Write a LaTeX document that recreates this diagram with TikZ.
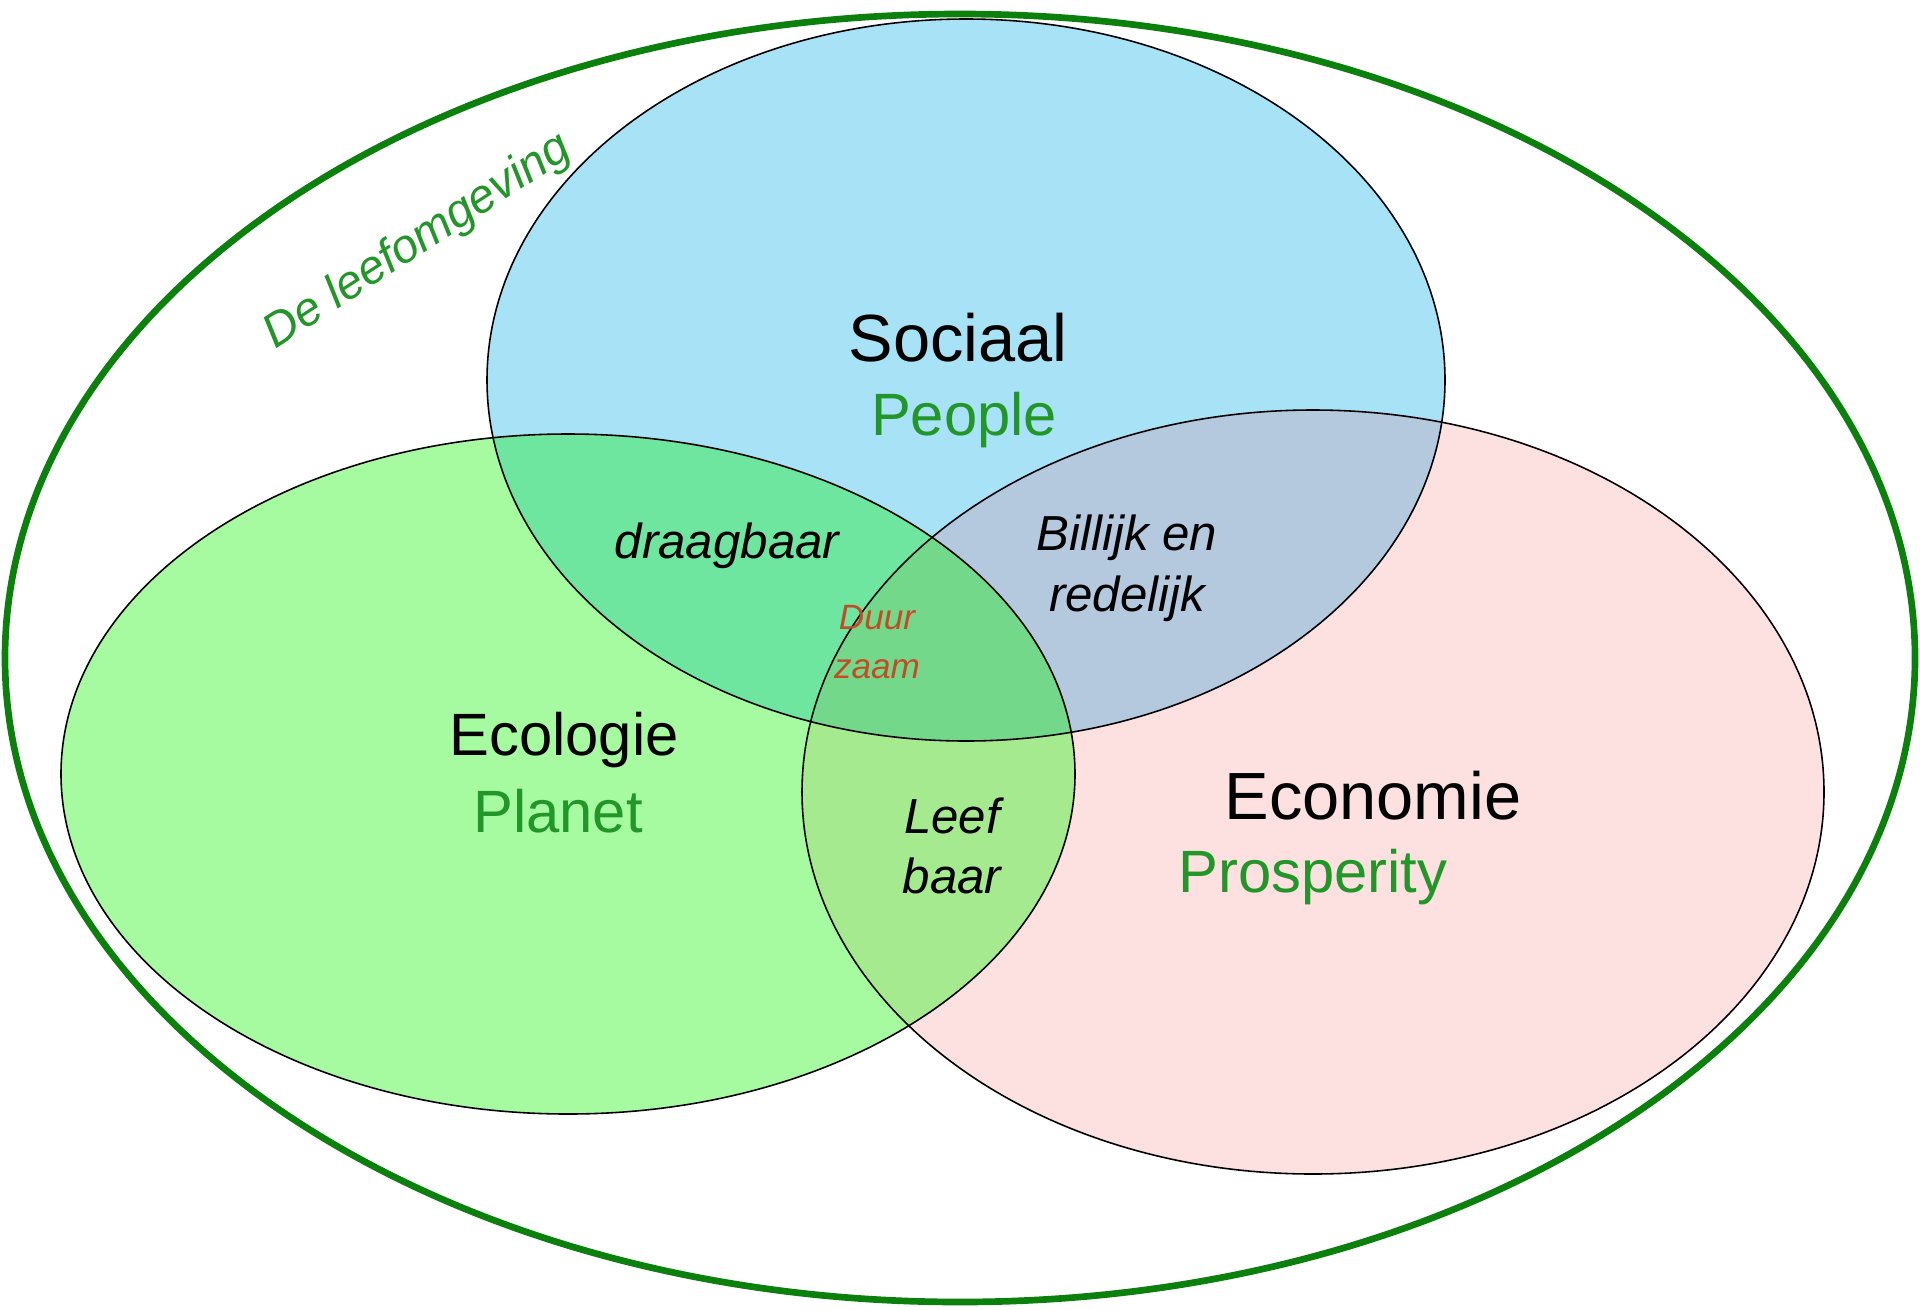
\documentclass[tikz,border=0pt]{standalone}
\usepackage{fontspec}
\setmainfont{Liberation Sans}
\usetikzlibrary{positioning}

\definecolor{socblue}{RGB}{168,226,247}
\definecolor{ecogreen}{RGB}{166,250,160}
\definecolor{econpink}{RGB}{253,224,224}
\definecolor{sgmix}{RGB}{110,230,160}
\definecolor{semix}{RGB}{180,200,222}
\definecolor{egmix}{RGB}{165,234,142}
\definecolor{allmix}{RGB}{115,216,138}
\definecolor{leafgreen}{RGB}{34,150,40}
\definecolor{rimgreen}{RGB}{12,128,12}
\definecolor{duurred}{RGB}{196,76,36}

% the three circles and the rim, in pixels
\def\sociaal{(966,380) ellipse [x radius=479, y radius=361]}
\def\ecologie{(568,774) ellipse [x radius=507, y radius=340]}
\def\economie{(1313,792) ellipse [x radius=511, y radius=382]}
\def\rim{(960,658) ellipse [x radius=955, y radius=644]}

\begin{document}
\begin{tikzpicture}[x=0.02cm,y=-0.02cm,
    title/.style={font=\fontsize{38}{44}\selectfont},
    sub/.style={font=\fontsize{34}{40}\selectfont,text=leafgreen},
    overlap/.style={font=\fontsize{28}{34.6}\selectfont\itshape,align=center}]
    \useasboundingbox[fill=white] (0,0) rectangle (1920,1309);

    % plain fills
    \fill[socblue] \sociaal;
    \fill[ecogreen] \ecologie;
    \fill[econpink] \economie;

    % pairwise overlaps
    \begin{scope}
        \clip \sociaal;
        \fill[sgmix] \ecologie;
        \fill[semix] \economie;
    \end{scope}
    \begin{scope}
        \clip \ecologie;
        \fill[egmix] \economie;
    \end{scope}

    % middle, all three
    \begin{scope}
        \clip \sociaal;
        \clip \ecologie;
        \fill[allmix] \economie;
    \end{scope}

    % outlines
    \draw[line width=0.9pt] \sociaal;
    \draw[line width=0.9pt] \ecologie;
    \draw[line width=0.9pt] \economie;

    % the rim, green and thick
    \draw[rimgreen,line width=3.8pt] \rim;

    % names of the circles
    \node[title] (soc) at (958,338) {Sociaal};
    \node[sub] (people) at (964,420) {People};
    \node[font=\fontsize{34}{40}\selectfont] (eco) at (564,740) {Ecologie};
    \node[sub] (planet) at (558,811) {Planet};
    \node[title] (econ) at (1373,796) {Economie};
    \node[sub] (prosp) at (1313,877) {Prosperity};

    % overlaps
    \node[overlap] (draag) at (727,546) {draagbaar};
    \node[overlap] (billijk) at (1127,568) {Billijk en\\redelijk};
    \node[overlap] (leef) at (952,846) {Leef\\baar};
    \node[overlap,font=\fontsize{20}{28}\selectfont\itshape,text=duurred] (duur) at (877,642) {Duur\\zaam};

    % label of the rim
    \node[font=\fontsize{27}{32}\selectfont\itshape,text=leafgreen,rotate=33] (leefomg) at (418,242) {De leefomgeving};
\end{tikzpicture}
\end{document}
